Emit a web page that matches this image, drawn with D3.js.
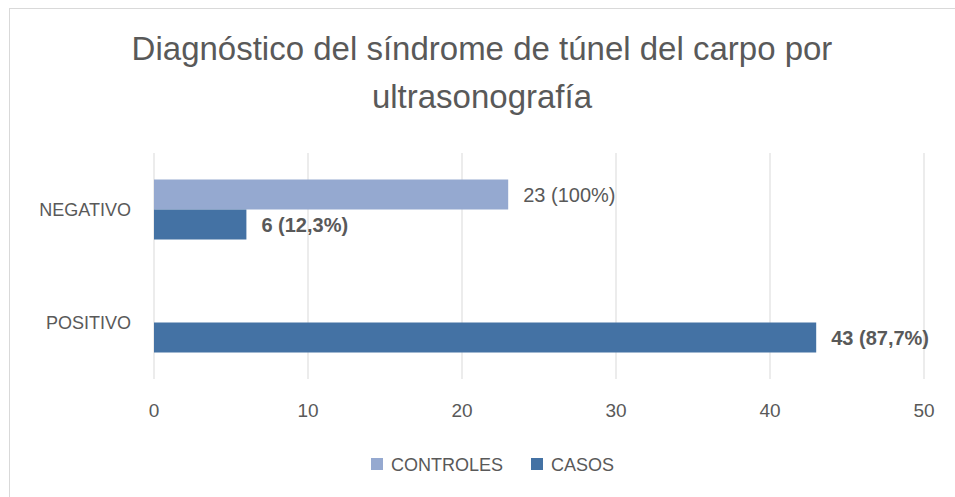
<!DOCTYPE html>
<html>
<head>
<meta charset="utf-8">
<script src="https://cdn.jsdelivr.net/npm/d3@7"></script>
<style>
  body { margin: 0; background: #fff; }
  svg text { font-family: "Liberation Sans", Arial, sans-serif; fill: #595959; }
</style>
</head>
<body>
<div id="chart"></div>
<script>
// data
const categories = ["NEGATIVO", "POSITIVO"];
const seriesNames = ["CONTROLES", "CASOS"];
const controles = [23, null];
const casos = [6, 43];
const labelsControles = ["23 (100%)", ""];
const labelsCasos = ["6 (12,3%)", "43 (87,7%)"];
const ticks = [0, 10, 20, 30, 40, 50];
const colors = ["#95A9D0", "#4472A4"];

const width = 955, height = 497;
const margin = {top: 153, right: 31, bottom: 118, left: 154};

const svg = d3.select("#chart").append("svg")
    .attr("width", width)
    .attr("height", height);

// chart frame (right and bottom edges fall outside the picture)
svg.append("rect")
    .attr("x", 9.5).attr("y", 8.5)
    .attr("width", 960).attr("height", 500)
    .attr("fill", "none")
    .attr("stroke", "#d9d9d9");

// title
const title = svg.append("text")
    .attr("text-anchor", "middle")
    .attr("font-size", 33);
title.append("tspan").attr("x", 482).attr("y", 60)
    .text("Diagnóstico del síndrome de túnel del carpo por");
title.append("tspan").attr("x", 482).attr("y", 108)
    .text("ultrasonografía");

const x = d3.scaleLinear()
    .domain([0, 50])
    .range([margin.left, width - margin.right]);

const y = d3.scaleBand()
    .domain(categories)
    .range([margin.top, height - margin.bottom]);

const ySub = d3.scaleBand()
    .domain(seriesNames)
    .range([0, 60]);

// gridlines
svg.append("g")
    .selectAll("line")
    .data(ticks)
    .join("line")
    .attr("x1", d => x(d)).attr("x2", d => x(d))
    .attr("y1", margin.top).attr("y2", height - margin.bottom)
    .attr("stroke", "#d9d9d9")
    .attr("stroke-width", 1);

// x tick labels
svg.append("g")
    .selectAll("text")
    .data(ticks)
    .join("text")
    .attr("x", d => x(d))
    .attr("y", 417)
    .attr("text-anchor", "middle")
    .attr("font-size", 19)
    .text(d => d);

// category labels
svg.append("g")
    .selectAll("text")
    .data(categories)
    .join("text")
    .attr("x", 131)
    .attr("y", d => y(d) + y.bandwidth() / 2 + 6)
    .attr("text-anchor", "end")
    .attr("font-size", 18)
    .text(d => d);

// bars
const rows = [];
categories.forEach((c, i) => {
    rows.push({cat: c, series: "CONTROLES", value: controles[i], label: labelsControles[i], bold: false});
    rows.push({cat: c, series: "CASOS", value: casos[i], label: labelsCasos[i], bold: true});
});

const barTop = d => y(d.cat) + (y.bandwidth() - 60) / 2 + ySub(d.series);

svg.append("g")
    .selectAll("rect")
    .data(rows.filter(d => d.value != null))
    .join("rect")
    .attr("x", x(0))
    .attr("y", barTop)
    .attr("width", d => x(d.value) - x(0))
    .attr("height", ySub.bandwidth())
    .attr("fill", d => colors[seriesNames.indexOf(d.series)]);

// value labels
svg.append("g")
    .selectAll("text")
    .data(rows.filter(d => d.value != null))
    .join("text")
    .attr("x", d => x(d.value) + 15)
    .attr("y", d => barTop(d) + ySub.bandwidth() / 2 + 7)
    .attr("font-size", 20)
    .attr("font-weight", d => d.bold ? "bold" : "normal")
    .text(d => d.label);

// legend
const legend = svg.append("g")
    .selectAll("g")
    .data(seriesNames)
    .join("g")
    .attr("transform", (d, i) => `translate(${[371, 531][i]}, 458)`);
legend.append("rect")
    .attr("width", 12).attr("height", 12)
    .attr("fill", (d, i) => colors[i]);
legend.append("text")
    .attr("x", 20).attr("y", 13)
    .attr("font-size", 18)
    .text(d => d);
</script>
</body>
</html>
